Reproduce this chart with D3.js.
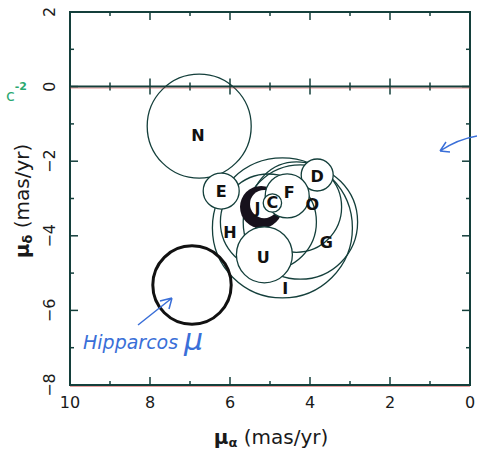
<!DOCTYPE html>
<html><head><meta charset="utf-8">
<script src="https://cdn.jsdelivr.net/npm/d3@7"></script>
<style>body{margin:0;background:#fff}</style>
</head><body>
<script>
// data (proper motion in mas/yr)
const bigNames = ["O","H","G","I"];
const bigX = [4.34, 5.04, 4.24, 4.69];
const bigY = [-3.23, -3.63, -3.63, -3.79];
const bigR = [1.13, 1.20, 1.43, 1.75];

const smallNames = ["N","E","D","F","C","U"];
const smallX = [6.77, 6.22, 3.82, 4.57, 4.94, 5.14];
const smallY = [-1.06, -2.80, -2.37, -2.93, -3.12, -4.51];
const smallR = [1.30, 0.45, 0.40, 0.55, 0.23, 0.70];

const jX = 5.22, jY = -3.23, jR = 0.53;   // thick ring (J)

const labelNames = ["N","E","D","F","C","J","U","O","H","G","I"];
const labelX = [6.80, 6.22, 3.82, 4.52, 4.94, 5.31, 5.17, 3.94, 6.00, 3.59, 4.62];
const labelY = [-1.30, -2.80, -2.40, -2.83, -3.12, -3.26, -4.57, -3.17, -3.90, -4.19, -5.40];

const hipX = 6.95, hipY = -5.32, hipR = 0.98;

const xTicks = [10, 8, 6, 4, 2, 0];
const yTicks = [2, 0, -2, -4, -6, -8];

const W = 477, H = 453;
const ink = "#143f3b";
const svg = d3.select("body").append("svg").attr("width", W).attr("height", H)
  .style("font-family", "'DejaVu Sans', sans-serif");

const x = d3.scaleLinear().domain([10, 0]).range([70, 470]);
const y = d3.scaleLinear().domain([2, -8]).range([12, 385]);
const rpx = r => Math.abs(x(r) - x(0));

// big circles
svg.append("g").selectAll("circle").data(bigNames).join("circle")
  .attr("cx", (d, i) => x(bigX[i])).attr("cy", (d, i) => y(bigY[i])).attr("r", (d, i) => rpx(bigR[i]))
  .attr("fill", "none").attr("stroke", ink).attr("stroke-width", 1.3);

// J thick ring (crescent)
svg.append("circle").attr("cx", x(jX)).attr("cy", y(jY)).attr("r", rpx(jR)).attr("fill", "#17111c");
svg.append("circle").attr("cx", x(jX) + 3).attr("cy", y(jY) - 3).attr("r", rpx(jR) - 7).attr("fill", "#fff");

// small circles (opaque)
svg.append("g").selectAll("circle").data(smallNames).join("circle")
  .attr("cx", (d, i) => x(smallX[i])).attr("cy", (d, i) => y(smallY[i])).attr("r", (d, i) => rpx(smallR[i]))
  .attr("fill", d => d === "N" ? "none" : "#fff").attr("stroke", ink).attr("stroke-width", 1.3);

// Hipparcos circle
svg.append("circle").attr("cx", x(hipX)).attr("cy", y(hipY)).attr("r", rpx(hipR))
  .attr("fill", "none").attr("stroke", "#111").attr("stroke-width", 3);

// labels
svg.append("g").selectAll("text").data(labelNames).join("text")
  .attr("x", (d, i) => x(labelX[i])).attr("y", (d, i) => y(labelY[i]))
  .attr("text-anchor", "middle").attr("dominant-baseline", "central")
  .attr("font-weight", "bold").attr("font-size", 16).attr("fill", "#111").text(d => d);

// axes frame
const g = svg.append("g").attr("stroke", ink).attr("fill", "none");
g.append("rect").attr("x", x(10)).attr("y", y(2)).attr("width", x(0) - x(10)).attr("height", y(-8) - y(2))
  .attr("stroke-width", 2);
// faint red scan fringe
svg.append("line").attr("x1", x(10)).attr("x2", x(0)).attr("y1", y(0) + 1.5).attr("y2", y(0) + 1.5)
  .attr("stroke", "#d04040").attr("stroke-opacity", 0.5).attr("stroke-width", 1);
svg.append("line").attr("x1", x(10)).attr("x2", x(0)).attr("y1", y(-8) + 1.5).attr("y2", y(-8) + 1.5)
  .attr("stroke", "#d04040").attr("stroke-opacity", 0.5).attr("stroke-width", 1);
g.append("line").attr("x1", x(10)).attr("x2", x(0)).attr("y1", y(0)).attr("y2", y(0)).attr("stroke-width", 2);

const xAll = d3.range(10, -1, -1);
const yAll = d3.range(2, -9, -1);
const len = v => (v % 2 === 0 ? 8 : 4);
xAll.forEach(v => {
  if (v === 10 || v === 0) return;
  g.append("line").attr("x1", x(v)).attr("x2", x(v)).attr("y1", y(-8)).attr("y2", y(-8) - len(v)).attr("stroke-width", 1.5);
  g.append("line").attr("x1", x(v)).attr("x2", x(v)).attr("y1", y(2)).attr("y2", y(2) + len(v)).attr("stroke-width", 1.5);
  g.append("line").attr("x1", x(v)).attr("x2", x(v)).attr("y1", y(0) - len(v)).attr("y2", y(0) + len(v)).attr("stroke-width", 1.5);
});
yAll.forEach(v => {
  if (v === 2 || v === -8) return;
  g.append("line").attr("y1", y(v)).attr("y2", y(v)).attr("x1", x(10)).attr("x2", x(10) + len(v)).attr("stroke-width", 1.5);
  g.append("line").attr("y1", y(v)).attr("y2", y(v)).attr("x1", x(0)).attr("x2", x(0) - len(v)).attr("stroke-width", 1.5);
});

// tick labels
svg.append("g").selectAll("text").data(xTicks).join("text")
  .attr("x", d => x(d)).attr("y", 408).attr("text-anchor", "middle")
  .attr("font-size", 16).attr("fill", "#1a1a1a").text(d => d);
svg.append("g").selectAll("text").data(yTicks).join("text")
  .attr("transform", d => `translate(55,${y(d)}) rotate(-90)`).attr("text-anchor", "middle")
  .attr("font-size", 16).attr("fill", "#1a1a1a").text(d => d < 0 ? "\u2212" + (-d) : d);

// axis titles
const xt = svg.append("text").attr("x", 271).attr("y", 444).attr("text-anchor", "middle")
  .attr("font-size", 20).attr("fill", "#1a1a1a");
xt.append("tspan").attr("font-weight", "bold").text("\u03bc");
xt.append("tspan").attr("font-size", 13).attr("font-weight", "bold").attr("dy", 3).text("\u03b1");
xt.append("tspan").attr("dy", -3).text(" (mas/yr)");
const yt = svg.append("text").attr("transform", "translate(29,201) rotate(-90)").attr("text-anchor", "middle")
  .attr("font-size", 20).attr("fill", "#1a1a1a");
yt.append("tspan").attr("font-weight", "bold").text("\u03bc");
yt.append("tspan").attr("font-size", 13).attr("font-weight", "bold").attr("dy", 3).text("\u03b4");
yt.append("tspan").attr("dy", -3).text(" (mas/yr)");

// handwritten annotations
const blue = "#3a6fd8";
svg.append("text").attr("x", 83).attr("y", 349).attr("font-size", 19).attr("font-style", "italic")
  .attr("font-weight", "200").attr("fill", blue).text("Hipparcos");
svg.append("text").attr("x", 184).attr("y", 350).attr("font-size", 30).attr("font-style", "italic")
  .attr("fill", blue).text("\u03bc");
svg.append("path").attr("d", "M138,325 L172,298 M172,298 L160,301 M172,298 L169,309")
  .attr("stroke", blue).attr("fill", "none").attr("stroke-width", 1.5);
svg.append("path").attr("d", "M477,136 C465,138 452,143 440,151 M440,151 L446,142 M440,151 L450,152")
  .attr("stroke", blue).attr("fill", "none").attr("stroke-width", 1.5);
const gr = svg.append("text").attr("x", 6).attr("y", 101).attr("font-size", 16).attr("fill", "#2aa870");
gr.append("tspan").text("c");
gr.append("tspan").attr("dy", -11).attr("font-size", 11).attr("font-weight", "bold").text("-2");
</script>
</body></html>
